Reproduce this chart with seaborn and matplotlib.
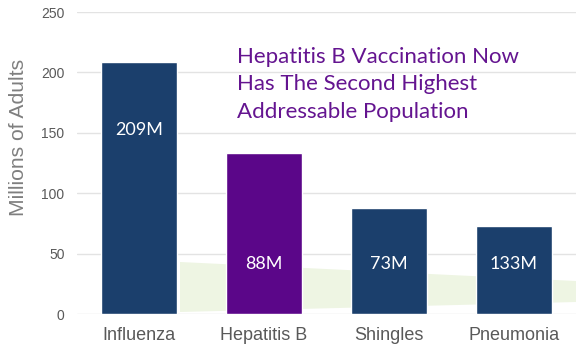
import matplotlib
matplotlib.use("Agg")
import matplotlib.pyplot as plt
import seaborn as sns
import pandas as pd
from matplotlib.patches import Polygon

categories = ["Influenza", "Hepatitis B", "Shingles", "Pneumonia"]
values = [209, 133, 88, 73]
bar_labels = ["209M", "88M", "73M", "133M"]
bar_colors = ["#1b3f6c", "#5b0689", "#1b3f6c", "#1b3f6c"]
y_ticks = [0, 50, 100, 150, 200, 250]
title_lines = ["Hepatitis B Vaccination Now", "Has The Second Highest", "Addressable Population"]

sns.set_style("white")
plt.rcParams["font.family"] = ["Liberation Sans", "DejaVu Sans"]

df = pd.DataFrame({"cat": categories, "val": values})

fig = plt.figure(figsize=(5.76, 3.51), dpi=100)
ax = fig.add_axes([77/576, 37/351, 499/576, 302/351])
ax.set_zorder(1)

# decorative faint green swoosh (figure pixel coords)
W, H = 576, 351
pts = [(180, 262), (576, 281), (576, 302), (180, 312)]
poly = Polygon([(x / W, 1 - y / H) for x, y in pts], closed=True,
               transform=fig.transFigure, facecolor="#eef5e3", edgecolor="none",
               zorder=0)
fig.patches.append(poly)
ax.set_facecolor("none")

sns.barplot(data=df, x="cat", y="val", hue="cat", palette=bar_colors,
            width=0.61, legend=False, ax=ax, saturation=1, zorder=3)

ax.set_ylim(0, 250)
ax.set_xlim(-0.5, 3.5)
ax.set_yticks(y_ticks)
ax.yaxis.grid(True, color="#e3e3e3", linewidth=1, zorder=0)
ax.set_axisbelow(True)
for s in ax.spines.values():
    s.set_visible(False)
ax.tick_params(axis="both", length=0)
ax.tick_params(axis="y", labelsize=10, labelcolor="#595959", pad=9)
ax.tick_params(axis="x", labelsize=13, labelcolor="#595959", pad=9)
ax.set_xlabel("")
ax.set_ylabel("Millions of Adults", fontsize=15.2, color="#7f7f7f")
ax.yaxis.set_label_coords(-0.098, 0.585)

label_y = [152, 41, 41, 41]
for i, (lab, ly) in enumerate(zip(bar_labels, label_y)):
    ax.text(i, ly, lab, ha="center", va="center", color="white",
            fontsize=13, family=["Lato", "DejaVu Sans"], zorder=4)

fig.text(237 / W, 1 - 47 / H, "\n".join(title_lines), ha="left", va="top",
         color="#641490", fontsize=16, family=["Lato", "DejaVu Sans"],
         linespacing=1.46)

fig.savefig("out.png", dpi=100)
